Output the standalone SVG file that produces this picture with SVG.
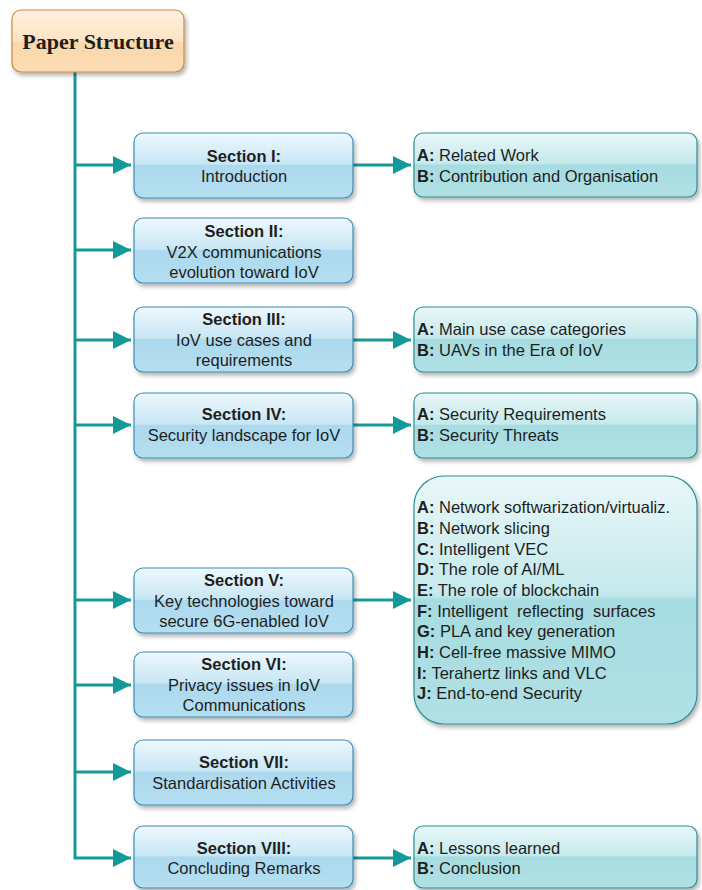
<svg xmlns="http://www.w3.org/2000/svg" width="702" height="890" viewBox="0 0 702 890">
<defs>
<linearGradient id="gOr" x1="0" y1="0" x2="0" y2="1">
<stop offset="0" stop-color="#fff1e0"/><stop offset="0.5" stop-color="#fde3c3"/><stop offset="0.52" stop-color="#fbd7ab"/><stop offset="1" stop-color="#fbdcb4"/>
</linearGradient>
<linearGradient id="gBl" x1="0" y1="0" x2="0" y2="1">
<stop offset="0" stop-color="#eef8fd"/><stop offset="0.48" stop-color="#c7e6f4"/><stop offset="0.5" stop-color="#acd9ee"/><stop offset="1" stop-color="#b5def0"/>
</linearGradient>
<linearGradient id="gCy" x1="0" y1="0" x2="0" y2="1">
<stop offset="0" stop-color="#e9f7f8"/><stop offset="0.48" stop-color="#c4e9ec"/><stop offset="0.5" stop-color="#a6dce1"/><stop offset="1" stop-color="#b0e0e4"/>
</linearGradient>
<filter id="sh" x="-10%" y="-10%" width="125%" height="130%">
<feDropShadow dx="2" dy="3" stdDeviation="2" flood-color="#000" flood-opacity="0.3"/>
</filter>
<marker id="ah" viewBox="0 0 10 10" refX="10" refY="5" markerWidth="6" markerHeight="6" markerUnits="strokeWidth" orient="auto">
<path d="M0,0 L10,5 L0,10 Z" fill="#139a98"/>
</marker>
<style>
.sec{fill:url(#gBl);stroke:#3b8db5;stroke-width:1.2;filter:url(#sh)}
.sub{fill:url(#gCy);stroke:#2a9098;stroke-width:1.2;filter:url(#sh)}
.ttl{fill:url(#gOr);stroke:#c98a45;stroke-width:1.2;filter:url(#sh)}
text{font-family:"Liberation Sans",Arial,sans-serif;font-size:16.5px;fill:#1e1e1e}
.b{font-weight:bold}
.c{text-anchor:middle}
.pt{font-family:"Liberation Serif","Times New Roman",serif;font-size:22px;font-weight:bold}
.ln{fill:none;stroke:#139a98;stroke-width:3}
</style>
</defs>
<g id="connectors">
<path class="ln" d="M75,72 V858 H131" marker-end="url(#ah)"/>
<path class="ln" d="M75,165 H131" marker-end="url(#ah)"/>
<path class="ln" d="M75,250 H131" marker-end="url(#ah)"/>
<path class="ln" d="M75,340 H131" marker-end="url(#ah)"/>
<path class="ln" d="M75,425 H131" marker-end="url(#ah)"/>
<path class="ln" d="M75,600 H131" marker-end="url(#ah)"/>
<path class="ln" d="M75,685 H131" marker-end="url(#ah)"/>
<path class="ln" d="M75,772 H131" marker-end="url(#ah)"/>
<path class="ln" d="M353,165 H411" marker-end="url(#ah)"/>
<path class="ln" d="M353,340 H411" marker-end="url(#ah)"/>
<path class="ln" d="M353,425 H411" marker-end="url(#ah)"/>
<path class="ln" d="M353,600 H411" marker-end="url(#ah)"/>
<path class="ln" d="M353,858 H411" marker-end="url(#ah)"/>
</g>
<g id="paper-structure">
<rect class="ttl" x="12" y="10" width="172" height="62" rx="9"/>
<text class="pt c" x="98" y="49">Paper Structure</text>
</g>
<g id="sec1">
<rect class="sec" x="134" y="133" width="219" height="65" rx="9"/>
<text class="b c" x="244" y="162">Section I:</text>
<text class="c" x="244" y="182">Introduction</text>
</g>
<g id="sec2">
<rect class="sec" x="134" y="218" width="219" height="65" rx="9"/>
<text class="b c" x="244" y="237">Section II:</text>
<text class="c" x="244" y="258">V2X communications</text>
<text class="c" x="244" y="278">evolution toward IoV</text>
</g>
<g id="sec3">
<rect class="sec" x="134" y="307" width="219" height="65" rx="9"/>
<text class="b c" x="244" y="325">Section III:</text>
<text class="c" x="244" y="346">IoV use cases and</text>
<text class="c" x="244" y="366">requirements</text>
</g>
<g id="sec4">
<rect class="sec" x="134" y="393" width="219" height="65" rx="9"/>
<text class="b c" x="244" y="420">Section IV:</text>
<text class="c" x="244" y="441">Security landscape for IoV</text>
</g>
<g id="sec5">
<rect class="sec" x="134" y="568" width="219" height="65" rx="9"/>
<text class="b c" x="244" y="586">Section V:</text>
<text class="c" x="244" y="607">Key technologies toward</text>
<text class="c" x="244" y="627">secure 6G-enabled IoV</text>
</g>
<g id="sec6">
<rect class="sec" x="134" y="652" width="219" height="65" rx="9"/>
<text class="b c" x="244" y="670">Section VI:</text>
<text class="c" x="244" y="691">Privacy issues in IoV</text>
<text class="c" x="244" y="711">Communications</text>
</g>
<g id="sec7">
<rect class="sec" x="134" y="740" width="219" height="65" rx="9"/>
<text class="b c" x="244" y="768">Section VII:</text>
<text class="c" x="244" y="789">Standardisation Activities</text>
</g>
<g id="sec8">
<rect class="sec" x="134" y="826" width="219" height="62" rx="9"/>
<text class="b c" x="244" y="854">Section VIII:</text>
<text class="c" x="244" y="874">Concluding Remarks</text>
</g>
<g id="sub1">
<rect class="sub" x="414" y="133" width="283" height="64" rx="9"/>
<text x="417" y="161"><tspan class="b">A:</tspan> Related Work</text>
<text x="417" y="182"><tspan class="b">B:</tspan> Contribution and Organisation</text>
</g>
<g id="sub3">
<rect class="sub" x="414" y="307" width="283" height="65" rx="9"/>
<text x="417" y="335"><tspan class="b">A:</tspan> Main use case categories</text>
<text x="417" y="356"><tspan class="b">B:</tspan> UAVs in the Era of IoV</text>
</g>
<g id="sub4">
<rect class="sub" x="414" y="393" width="283" height="65" rx="9"/>
<text x="417" y="420"><tspan class="b">A:</tspan> Security Requirements</text>
<text x="417" y="441"><tspan class="b">B:</tspan> Security Threats</text>
</g>
<g id="sub5">
<rect class="sub" x="414" y="476" width="283" height="248" rx="30"/>
<text x="417" y="513"><tspan class="b">A:</tspan> Network softwarization/virtualiz.</text>
<text x="417" y="534"><tspan class="b">B:</tspan> Network slicing</text>
<text x="417" y="555"><tspan class="b">C:</tspan> Intelligent VEC</text>
<text x="417" y="575"><tspan class="b">D:</tspan> The role of AI/ML</text>
<text x="417" y="596"><tspan class="b">E:</tspan> The role of blockchain</text>
<text x="417" y="617" xml:space="preserve"><tspan class="b">F:</tspan> Intelligent  reflecting  surfaces</text>
<text x="417" y="637"><tspan class="b">G:</tspan> PLA and key generation</text>
<text x="417" y="658"><tspan class="b">H:</tspan> Cell-free massive MIMO</text>
<text x="417" y="679"><tspan class="b">I:</tspan> Terahertz links and VLC</text>
<text x="417" y="699"><tspan class="b">J:</tspan> End-to-end Security</text>
</g>
<g id="sub8">
<rect class="sub" x="414" y="826" width="283" height="62" rx="9"/>
<text x="417" y="854"><tspan class="b">A:</tspan> Lessons learned</text>
<text x="417" y="874"><tspan class="b">B:</tspan> Conclusion</text>
</g>
</svg>
